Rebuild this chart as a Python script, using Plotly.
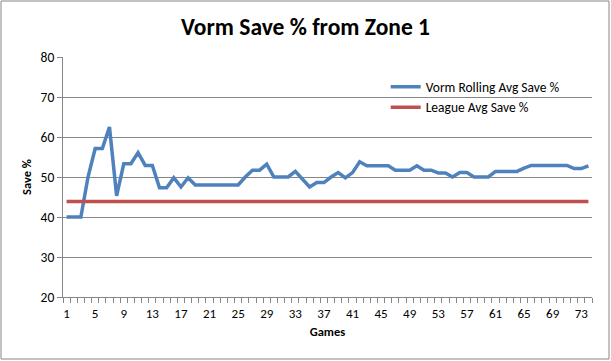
import plotly.graph_objects as go

games = list(range(1, 75))
vorm_rolling = [40, 40, 40, 50, 57.1, 57.1, 62.5, 45.3, 53.3, 53.3,
                56.1, 52.9, 52.9, 47.3, 47.3, 49.8, 47.5, 49.8, 48, 48,
                48, 48, 48, 48, 48, 50, 51.7, 51.7, 53.2, 50,
                50, 50, 51.4, 49.5, 47.5, 48.6, 48.6, 50, 51.1, 49.8,
                51.1, 53.8, 52.8, 52.8, 52.8, 52.8, 51.7, 51.7, 51.7, 52.8,
                51.7, 51.7, 51, 51, 50, 51.1, 51.1, 50, 50, 50,
                51.4, 51.4, 51.4, 51.4, 52.2, 52.9, 52.9, 52.9, 52.9, 52.9,
                52.9, 52.1, 52.1, 52.8]
league_avg_value = 43.9
league_avg = [league_avg_value for _ in games]
x_tick_vals = list(range(1, 75, 4))
x_tick_text = [str(v) for v in x_tick_vals]
y_tick_vals = [20, 30, 40, 50, 60, 70, 80]

FONT = "Carlito, Calibri, Lato, sans-serif"
GRAY = "#868686"

fig = go.Figure()
fig.add_trace(go.Scatter(x=games, y=vorm_rolling, mode="lines",
                         name="Vorm Rolling Avg Save %",
                         line=dict(color="#4F81BD", width=3.5)))
fig.add_trace(go.Scatter(x=games, y=league_avg, mode="lines",
                         name="League Avg Save %",
                         line=dict(color="#C0504D", width=3.5)))

fig.update_layout(
    width=611, height=361,
    margin=dict(l=63, r=19, t=57, b=64),
    paper_bgcolor="white", plot_bgcolor="white",
    font=dict(family=FONT, size=12, color="black"),
    title=dict(text="<b>Vorm Save % from Zone 1</b>", x=0.5, xref="container",
               y=0.925, yref="container", yanchor="middle",
               font=dict(family=FONT, size=23.5, color="black")),
    showlegend=True,
    legend=dict(x=0.61, y=0.94, xanchor="left", yanchor="top",
                bgcolor="rgba(0,0,0,0)", font=dict(family=FONT, size=13.5),
                tracegroupgap=2),
    xaxis=dict(range=[0.5, 74.5], tickmode="array", tickvals=x_tick_vals,
               ticktext=x_tick_text, ticks="", showgrid=False, zeroline=False,
               showline=True, linecolor=GRAY, linewidth=1,
               tickfont=dict(family=FONT, size=13), ticklabelstandoff=4,
               minor=dict(tickmode="array",
                          tickvals=[g + 0.5 for g in [0] + games],
                          ticks="outside", ticklen=5, tickcolor=GRAY, showgrid=False),
               title=dict(text="<b>Games</b>", font=dict(family=FONT, size=12.5), standoff=7)),
    yaxis=dict(range=[20, 80], tickmode="array", tickvals=y_tick_vals,
               ticks="outside", ticklen=5, tickcolor=GRAY,
               showgrid=True, gridcolor=GRAY, gridwidth=1, zeroline=False,
               showline=True, linecolor=GRAY, linewidth=1,
               tickfont=dict(family=FONT, size=13.5),
               title=dict(text="<b>Save %</b>", font=dict(family=FONT, size=12.5), standoff=6)),
    shapes=[dict(type="rect", xref="paper", yref="paper",
                 x0=(1 - 63) / 529, x1=(609 - 63) / 529,
                 y0=(297 - 359) / 240, y1=(297 - 1) / 240,
                 line=dict(color=GRAY, width=1), fillcolor="rgba(0,0,0,0)", layer="below")],
)

fig.write_html("out.html", config={"displayModeBar": False},
               post_script="document.body.style.margin='0';document.body.style.overflow='hidden';")
